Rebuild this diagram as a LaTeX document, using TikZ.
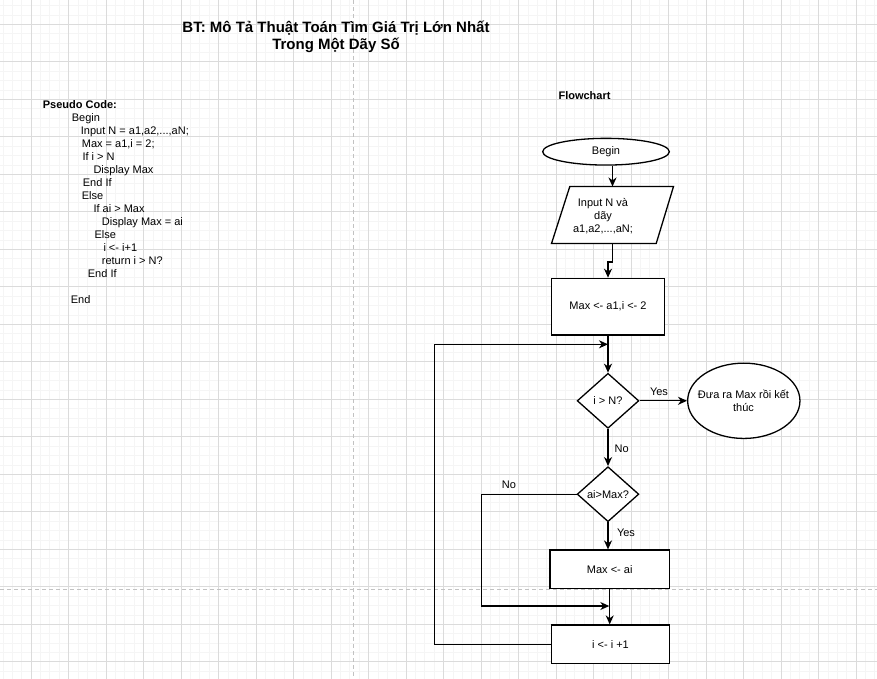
\documentclass[tikz,border=0pt]{standalone}
\usepackage{fontspec}
\setmainfont{Liberation Sans}
\usetikzlibrary{shapes.geometric,arrows.meta,calc}
\begin{document}
\begin{tikzpicture}[x=1pt,y=-1pt,
  minorgrid/.style={draw=black!4, line width=0.75pt},
  majorgrid/.style={draw=black!14, line width=0.75pt},
  pagebreak/.style={draw=black!24, line width=0.9pt, dash pattern=on 4pt off 3pt},
  txt/.style={inner sep=0pt, font=\fontsize{11}{13}\selectfont},
  code/.style={txt, anchor=base west},
  shp/.style={draw=black, line width=1.3pt, fill=white, inner sep=0pt, font=\fontsize{11}{13.3}\selectfont, align=center},
  conn/.style={line width=1.3pt, -{Stealth[length=9pt,width=8pt,inset=2.8pt]}},
  lbl/.style={txt}
]
\useasboundingbox (0,0) rectangle (877,679);
\fill[white] (0,0) rectangle (877,679);
% grid
\foreach \j in {-3,...,90} \draw[minorgrid] ({31+9.375*\j},0) -- ++(0,679);
\foreach \j in {-2,...,69} \draw[minorgrid] (0,{24.3+9.375*\j}) -- ++(877,0);
\foreach \k in {0,...,22} \draw[majorgrid] ({31+37.5*\k},0) -- ++(0,679);
\foreach \k in {0,...,17} \draw[majorgrid] (0,{24.3+37.5*\k}) -- ++(877,0);
\draw[pagebreak] (353.3,0) -- (353.3,679);
\draw[pagebreak] (0,589.3) -- (877,589.3);

% title
\node[txt, anchor=base, font=\fontsize{15}{17}\selectfont\bfseries] (title1) at (336,32.5) {BT: Mô Tả Thuật Toán Tìm Giá Trị Lớn Nhất};
\node[txt, anchor=base, font=\fontsize{15}{17}\selectfont\bfseries] (title2) at (336,49.3) {Trong Một Dãy Số};

% pseudo code
\node[code, font=\fontsize{11}{13}\selectfont\bfseries] (p1) at (42.7,108.3) {Pseudo Code:};
\node[code] (p2) at (71.7,121.3) {Begin};
\node[code] (p3) at (80.7,134.3) {Input N = a1,a2,...,aN;};
\node[code] (p4) at (81.7,147.3) {Max = a1,i = 2;};
\node[code] (p5) at (82.3,160.3) {If i > N};
\node[code] (p6) at (93.3,173.3) {Display Max};
\node[code] (p7) at (82.7,186.3) {End If};
\node[code] (p8) at (81.7,199.3) {Else};
\node[code] (p9) at (93.3,212.3) {If ai > Max};
\node[code] (p10) at (101.7,225.3) {Display Max = ai};
\node[code] (p11) at (94.3,238.3) {Else};
\node[code] (p12) at (103.3,251.3) {i <- i+1};
\node[code] (p13) at (101.7,264.3) {return i > N?};
\node[code] (p14) at (87.7,277.3) {End If};
\node[code] (p15) at (70.7,303.3) {End};

% flowchart
\node[txt, anchor=base, font=\fontsize{11}{13}\selectfont\bfseries] (fc) at (584.5,100) {Flowchart};

\node[shp, ellipse, minimum width=126.6, minimum height=26.7] (begin) at (606,151.7) {Begin};

\node[inner sep=0, minimum width=121.6, minimum height=56.6] (input) at (612.5,215) {};
\draw[line width=1.3pt, fill=white] ($(input.north west)+(18.3,0)$) -- (input.north east) -- ($(input.south east)+(-17.3,0)$) -- (input.south west) -- cycle;
\node[txt, align=center, font=\fontsize{11}{13.3}\selectfont] (inputtext) at (603,216.2) {Input N và\\dãy\\a1,a2,...,aN;};

\node[shp, rectangle, minimum width=112.6, minimum height=56.7] (init) at (608,306.7) {Max <- a1,i <- 2};

\node[shp, diamond, minimum width=61.7, minimum height=55] (d1) at (608,400.8) {i > N?};
\node[shp, ellipse, minimum width=112.3, minimum height=75.3] (endn) at (743.8,400.8) {};
\node[txt, align=center, font=\fontsize{11}{13}\selectfont] (endtext) at (743.5,401) {Đưa ra Max rồi kết\\thúc};
\node[shp, diamond, minimum width=61.7, minimum height=55] (d2) at (608,494.2) {ai>Max?};
\node[shp, rectangle, minimum width=119.3, minimum height=38.3] (upd) at (609.7,569.2) {Max <- ai};
\node[shp, rectangle, minimum width=117.6, minimum height=38.3] (inc) at (610.5,644.2) {i <- i +1};

\coordinate (m1) at (608,344.3);
\coordinate (loopx) at (434.3,344.3);
\coordinate (nox) at (481.7,494.2);
\coordinate (m2) at (609.3,606);

\draw[conn] (begin.south -| input.north) -- (input.north);
\draw[conn] (input.south) -- ++(0,18.4) -| (init.north);
\draw[conn] (init.south) -- (d1.north);
\draw[conn] (inc.west) -| (loopx) -- (m1);
\draw[conn] (d1.east) -- (endn.west);
\draw[conn] (d1.south) -- (d2.north);
\draw[conn] (d2.west) -- (nox) |- (m2);
\draw[conn] (d2.south) -- (d2.south |- upd.north);
\draw[conn] (upd.south) -- (upd.south |- inc.north);

\node[lbl] (yes1) at (659,391.7) {Yes};
\node[lbl] (no1) at (621.7,448.3) {No};
\node[lbl] (no2) at (509,485) {No};
\node[lbl] (yes2) at (626,532.3) {Yes};
\end{tikzpicture}
\end{document}
